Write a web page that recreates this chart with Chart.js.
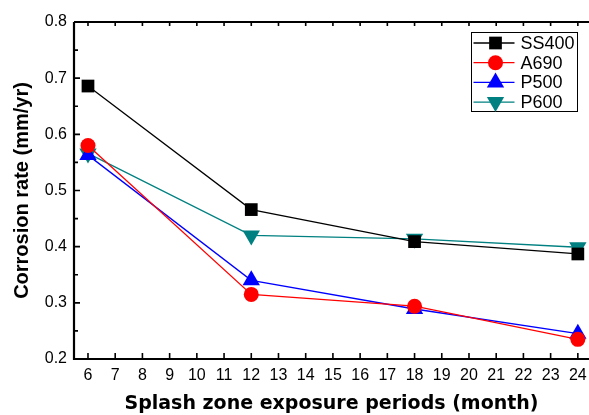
<!DOCTYPE html>
<html>
<head>
<meta charset="utf-8">
<script src="https://cdn.jsdelivr.net/npm/chart.js@4.4.1/dist/chart.umd.min.js"></script>
<style>
  html, body { margin: 0; padding: 0; background: #fff; }
  canvas { display: block; }
</style>
</head>
<body>
<canvas id="chart" width="589" height="415"></canvas>
<script>
// meses de exposição
const meses = [6, 12, 18, 24];
const xTicks = [6, 7, 8, 9, 10, 11, 12, 13, 14, 15, 16, 17, 18, 19, 20, 21, 22, 23, 24];
const yTicks = [0.2, 0.3, 0.4, 0.5, 0.6, 0.7, 0.8];

// taxas de corrosão (mm/yr)
const ss400 = [0.686, 0.466, 0.409, 0.387];
const a690 = [0.580, 0.315, 0.294, 0.235];
const p500 = [0.563, 0.340, 0.289, 0.245];
const p600 = [0.566, 0.420, 0.414, 0.399];

const FONTE = '"Liberation Sans", Arial, sans-serif';

function pontos(vals) {
  return vals.map((v, i) => ({ x: meses[i], y: v }));
}

// eixos com ticks para dentro, rótulos do eixo x, moldura e legenda
const pluginEixos = {
  id: 'eixos',
  afterDatasetsDraw(chart) {
    const { ctx, chartArea, scales, width } = chart;
    const { left, top, bottom } = chartArea;
    ctx.save();
    ctx.strokeStyle = '#000';
    ctx.lineWidth = 2.2;
    ctx.beginPath();
    ctx.moveTo(left, top); ctx.lineTo(left, bottom); ctx.lineTo(width, bottom);
    ctx.moveTo(left, top); ctx.lineTo(width, top);
    ctx.stroke();

    ctx.lineWidth = 1.6;
    ctx.beginPath();
    yTicks.forEach((v, i) => {
      const y = scales.y.getPixelForValue(v);
      ctx.moveTo(left, y); ctx.lineTo(left + 6, y);
      if (i < yTicks.length - 1) {
        const ym = scales.y.getPixelForValue(v + 0.05);
        ctx.moveTo(left, ym); ctx.lineTo(left + 4, ym);
      }
    });
    xTicks.forEach(v => {
      const x = scales.x.getPixelForValue(v);
      ctx.moveTo(x, bottom); ctx.lineTo(x, bottom - 6);
      ctx.moveTo(x, top); ctx.lineTo(x, top + 4);
    });
    ctx.stroke();

    ctx.fillStyle = '#000';
    ctx.font = '16px ' + FONTE;
    ctx.textAlign = 'center';
    ctx.textBaseline = 'middle';
    xTicks.forEach(v => {
      ctx.fillText(String(v), scales.x.getPixelForValue(v), bottom + 17);
    });
    ctx.textAlign = 'left';

    // legenda
    const lx = 471.5, ly = 32.5, lw = 106, lh = 79;
    ctx.fillStyle = '#fff';
    ctx.fillRect(lx, ly, lw, lh);
    ctx.lineWidth = 1;
    ctx.strokeStyle = '#000';
    ctx.strokeRect(lx, ly, lw, lh);
    ctx.font = '18px ' + FONTE;
    chart.data.datasets.forEach((ds, i) => {
      const y = 43 + i * 19.7;
      ctx.strokeStyle = ds.borderColor;
      ctx.lineWidth = 1.3;
      ctx.beginPath();
      ctx.moveTo(lx + 2, y); ctx.lineTo(lx + 43, y);
      ctx.stroke();
      ctx.fillStyle = ds.borderColor;
      Chart.helpers.drawPoint(ctx, {
        pointStyle: ds.pointStyle,
        radius: ds.pointRadius,
        rotation: ds.pointRotation || 0,
        borderWidth: 0
      }, lx + 24, y);
      ctx.fillStyle = '#000';
      ctx.fillText(ds.label, lx + 49, y + 1);
    });
    ctx.restore();
  }
};

function serie(label, dados, cor, estilo, raio, rot) {
  return {
    label,
    data: pontos(dados),
    borderColor: cor,
    backgroundColor: cor,
    borderWidth: 1.3,
    pointStyle: estilo,
    pointRadius: raio,
    pointRotation: rot || 0,
    pointBorderWidth: 0,
    pointBackgroundColor: cor,
    pointBorderColor: cor,
    tension: 0,
    clip: false
  };
}

new Chart(document.getElementById('chart'), {
  type: 'line',
  data: {
    datasets: [
      serie('SS400', ss400, '#000000', 'rect', 9),
      serie('A690', a690, '#ff0000', 'circle', 7.5),
      serie('P500', p500, '#0000ff', 'triangle', 10),
      serie('P600', p600, '#008080', 'triangle', 10, 180)
    ]
  },
  options: {
    responsive: false,
    animation: false,
    devicePixelRatio: 1,
    layout: { autoPadding: false, padding: { top: 22, right: 0, left: 0, bottom: 0 } },
    plugins: {
      legend: { display: false },
      tooltip: { enabled: false }
    },
    scales: {
      x: {
        type: 'linear',
        min: 5.486,
        max: 24.41,
        afterBuildTicks: s => { s.ticks = xTicks.map(v => ({ value: v })); },
        afterFit: s => { s.height = 56; },
        grid: { display: false, drawTicks: false },
        border: { display: false },
        ticks: { display: false },
        title: {
          display: true,
          text: 'Splash zone exposure periods (month)',
          color: '#000',
          font: { family: '"DejaVu Sans", sans-serif', size: 19, weight: 'bold' },
          padding: { top: 0, bottom: 0 }
        }
      },
      y: {
        min: 0.2,
        max: 0.8,
        afterBuildTicks: s => { s.ticks = yTicks.map(v => ({ value: v })); },
        afterFit: s => { s.width = 74; },
        grid: { display: false, drawTicks: false },
        border: { display: false },
        ticks: {
          color: '#000',
          font: { family: FONTE, size: 16 },
          padding: 7,
          callback: v => v.toFixed(1)
        },
        title: {
          display: true,
          text: 'Corrosion rate (mm/yr)',
          color: '#000',
          font: { family: FONTE, size: 20, weight: 'bold' },
          padding: { top: 10, bottom: 0 }
        }
      }
    }
  },
  plugins: [pluginEixos]
});
</script>
</body>
</html>
